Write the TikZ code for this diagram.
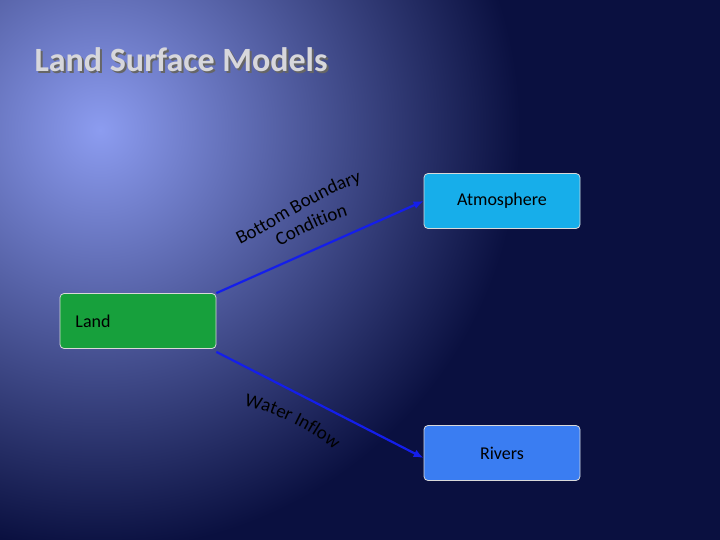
\documentclass[tikz,border=0pt]{standalone}
\usepackage{fontspec}
\setmainfont{Carlito}
\usetikzlibrary{decorations.text,arrows.meta}
\definecolor{bgdark}{HTML}{0A1040}
\definecolor{bgmid}{HTML}{2A3490}
\definecolor{bglight}{HTML}{8C9CF0}
\definecolor{atm}{HTML}{17AEEA}
\definecolor{lnd}{HTML}{17A03C}
\definecolor{riv}{HTML}{3A7DF2}
\tikzset{
  box/.style={draw=white!70!gray, line width=0.8pt, rounded corners=4pt, minimum width=156pt, minimum height=55pt, text=black, font=\fontsize{18}{20}\selectfont},
  conn/.style={draw={rgb,255:red,20;green,30;blue,235}, line width=2.2pt, -{Latex[length=10pt,width=8pt]}}
}
\begin{document}
\begin{tikzpicture}[x=1pt,y=-1pt]
\useasboundingbox (0,0) rectangle (720,540);
\fill[bgdark] (0,0) rectangle (720,540);
\shade[inner color=bglight, outer color=bgdark] (100,130) circle (420);
\node[anchor=west, text=black!60, font=\fontsize{34}{38}\selectfont\bfseries] at (33,62) {Land Surface Models};
\node[anchor=west, text={rgb,255:red,215;green,215;blue,220}, font=\fontsize{34}{38}\selectfont\bfseries] (title) at (31,60) {Land Surface Models};
\node[box, fill=atm] (atm) at (502,201) {Atmosphere};
\node[box, fill=lnd] (land) at (138,321) {\hspace{-90pt}Land};
\node[box, fill=riv] (riv) at (502,453) {Rivers};
\draw[conn] (land.north east) -- (atm.west);
\draw[conn] ([yshift=-3pt]land.south east) -- ([yshift=-5pt]riv.west);
\path[decorate, decoration={text along path, text align=center, text color=black, text={|\fontsize{19}{21}\selectfont|Bottom Boundary}}] (240,245) .. controls (280,225) and (320,195) .. (362,182);
\path[decorate, decoration={text along path, text align=center, text color=black, text={|\fontsize{19}{21}\selectfont|Condition}}] (278,247) .. controls (300,235) and (325,222) .. (350,215);
\path[decorate, decoration={text along path, text align=center, text color=black, text={|\fontsize{19}{21}\selectfont|Water Inflow}}] (243,405) .. controls (270,412) and (305,425) .. (335,450);
\end{tikzpicture}
\end{document}
